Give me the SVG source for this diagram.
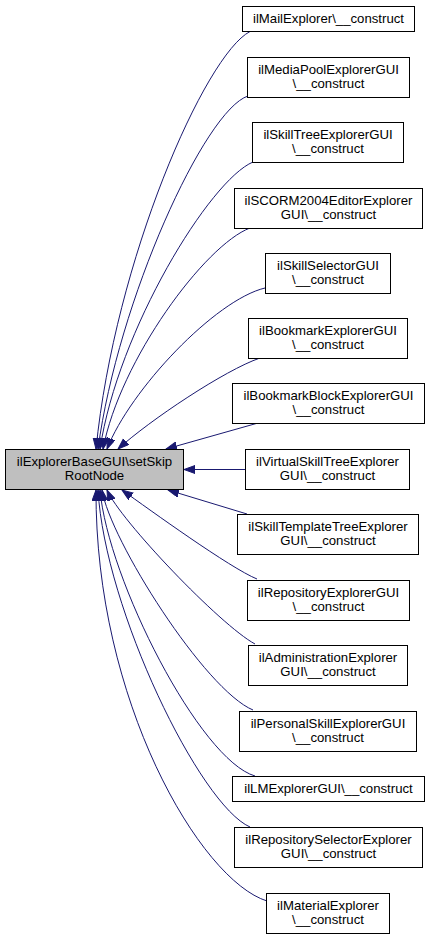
<svg xmlns="http://www.w3.org/2000/svg" width="429" height="939" viewBox="0 0 429 939">
<style>
.node rect{fill:#ffffff;stroke:#000000;stroke-width:1}
.main rect{fill:#bfbfbf;stroke:#000000;stroke-width:1}
text{font-family:"Liberation Sans",Arial,Helvetica,sans-serif;font-size:13.2px;fill:#000000;text-anchor:middle}
.edge{fill:none;stroke:#191970;stroke-width:1}
</style>
<defs>
<marker id="ah" markerUnits="userSpaceOnUse" markerWidth="12" markerHeight="9" refX="11" refY="4" orient="auto">
<path d="M0,0 L11,4 L0,8 z" fill="#191970" stroke="#191970" stroke-width="1"/>
</marker>
</defs>
<rect width="429" height="939" fill="#ffffff"/>
<g id="connectors">
<path class="edge" marker-end="url(#ah)" d="M250,31.5 C205,55 115,260 96,449"/>
<path class="edge" marker-end="url(#ah)" d="M248,96 C205,110 118,300 98,449"/>
<path class="edge" marker-end="url(#ah)" d="M253,162 C210,180 118,330 100,449"/>
<path class="edge" marker-end="url(#ah)" d="M250,228 C205,245 120,360 103,449"/>
<path class="edge" marker-end="url(#ah)" d="M265,288 C215,300 130,390 107,449"/>
<path class="edge" marker-end="url(#ah)" d="M260,358 C225,370 150,420 118,449"/>
<path class="edge" marker-end="url(#ah)" d="M258,423 L166,449"/>
<path class="edge" marker-end="url(#ah)" d="M245,469.5 L184,469.5"/>
<path class="edge" marker-end="url(#ah)" d="M247,514 L168,490"/>
<path class="edge" marker-end="url(#ah)" d="M257,579 C230,568 150,510 122,490"/>
<path class="edge" marker-end="url(#ah)" d="M255,644 C220,625 120,520 107,490"/>
<path class="edge" marker-end="url(#ah)" d="M253,710 C205,690 110,540 102,490"/>
<path class="edge" marker-end="url(#ah)" d="M255,776 C200,760 108,580 100,490"/>
<path class="edge" marker-end="url(#ah)" d="M250,827 C200,805 105,610 98,490"/>
<path class="edge" marker-end="url(#ah)" d="M267,901 C200,880 95,700 96,490"/>
</g>
<g id="main" class="main"><rect x="5.5" y="449.5" width="178" height="40"/><text x="94.5" y="466">ilExplorerBaseGUI\setSkip</text><text x="94.5" y="479.5">RootNode</text></g>
<g id="n1" class="node"><rect x="242.5" y="6.5" width="172" height="25"/><text x="328.5" y="22.5">ilMailExplorer\__construct</text></g>
<g id="n2" class="node"><rect x="247.5" y="57.5" width="162" height="40"/><text x="328.5" y="74">ilMediaPoolExplorerGUI</text><text x="328.5" y="87.5">\__construct</text></g>
<g id="n3" class="node"><rect x="252.5" y="122.5" width="151" height="40"/><text x="328" y="139">ilSkillTreeExplorerGUI</text><text x="328" y="152.5">\__construct</text></g>
<g id="n4" class="node"><rect x="234.5" y="188.5" width="188" height="40"/><text x="328.5" y="205">ilSCORM2004EditorExplorer</text><text x="328.5" y="218.5">GUI\__construct</text></g>
<g id="n5" class="node"><rect x="265.5" y="253.5" width="125" height="40"/><text x="328" y="270">ilSkillSelectorGUI</text><text x="328" y="283.5">\__construct</text></g>
<g id="n6" class="node"><rect x="248.5" y="318.5" width="159" height="40"/><text x="328" y="335">ilBookmarkExplorerGUI</text><text x="328" y="348.5">\__construct</text></g>
<g id="n7" class="node"><rect x="232.5" y="383.5" width="192" height="40"/><text x="328.5" y="400">ilBookmarkBlockExplorerGUI</text><text x="328.5" y="413.5">\__construct</text></g>
<g id="n8" class="node"><rect x="245.5" y="449.5" width="164" height="40"/><text x="327.5" y="466">ilVirtualSkillTreeExplorer</text><text x="327.5" y="479.5">GUI\__construct</text></g>
<g id="n9" class="node"><rect x="237.5" y="514.5" width="181" height="40"/><text x="328" y="531">ilSkillTemplateTreeExplorer</text><text x="328" y="544.5">GUI\__construct</text></g>
<g id="n10" class="node"><rect x="247.5" y="580.5" width="162" height="40"/><text x="328.5" y="597">ilRepositoryExplorerGUI</text><text x="328.5" y="610.5">\__construct</text></g>
<g id="n11" class="node"><rect x="248.5" y="645.5" width="159" height="40"/><text x="328" y="662">ilAdministrationExplorer</text><text x="328" y="675.5">GUI\__construct</text></g>
<g id="n12" class="node"><rect x="239.5" y="711.5" width="177" height="40"/><text x="328" y="728">ilPersonalSkillExplorerGUI</text><text x="328" y="741.5">\__construct</text></g>
<g id="n13" class="node"><rect x="232.5" y="776.5" width="192" height="25"/><text x="328.5" y="793">ilLMExplorerGUI\__construct</text></g>
<g id="n14" class="node"><rect x="234.5" y="827.5" width="188" height="40"/><text x="328.5" y="844">ilRepositorySelectorExplorer</text><text x="328.5" y="857.5">GUI\__construct</text></g>
<g id="n15" class="node"><rect x="266.5" y="893.5" width="123" height="40"/><text x="328" y="910">ilMaterialExplorer</text><text x="328" y="923.5">\__construct</text></g>
</svg>
